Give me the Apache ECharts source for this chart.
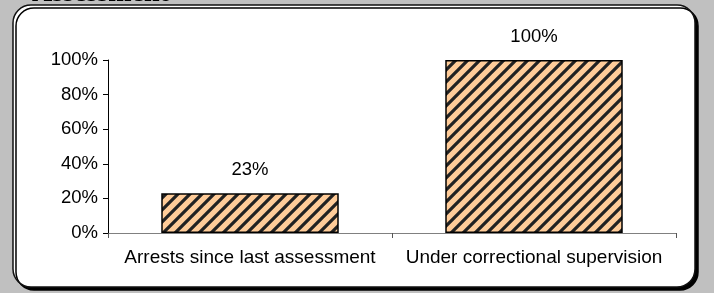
<!DOCTYPE html>
<html>
<head>
<meta charset="utf-8">
<script src="https://cdn.jsdelivr.net/npm/echarts@6/dist/echarts.min.js"></script>
<style>
  html, body { margin: 0; padding: 0; background: #c0c0c0; }
  #chart { width: 714px; height: 293px; }
</style>
</head>
<body>
<div id="chart"></div>
<script>
// data
var categories = ["Arrests since last assessment", "Under correctional supervision"];
var values = [23, 100];
var yTicks = [0, 20, 40, 60, 80, 100];

// hatched fill: peach with dark diagonal stripes
function makeHatch() {
  var s = 12;
  var c = document.createElement("canvas");
  c.width = s; c.height = s;
  var ctx = c.getContext("2d");
  ctx.fillStyle = "#ffcc99";
  ctx.fillRect(0, 0, s, s);
  ctx.strokeStyle = "#222";
  ctx.lineWidth = 3.2;
  ctx.beginPath();
  ctx.moveTo(-s, s * 2); ctx.lineTo(s * 2, -s);
  ctx.moveTo(-s, s); ctx.lineTo(s, -s);
  ctx.moveTo(0, s * 2); ctx.lineTo(s * 2, 0);
  ctx.stroke();
  return c;
}

var chart = echarts.init(document.getElementById("chart"));

var options = {
  backgroundColor: "#c0c0c0",
  animation: false,
  textStyle: { fontFamily: "Liberation Sans, Arial, sans-serif" },
  graphic: [
    {
      type: "rect",
      z: -10,
      shape: { x: 13, y: 5, width: 682, height: 282, r: 18 },
      style: {
        fill: "#fff",
        stroke: "#111",
        lineWidth: 1.5,
        shadowColor: "#000",
        shadowOffsetX: 3,
        shadowOffsetY: 3,
        shadowBlur: 0
      }
    },
    {
      // title cut off at the top edge of the picture
      type: "text",
      z: 10,
      style: {
        x: 32,
        y: 8,
        verticalAlign: "bottom",
        text: "Assessment",
        fill: "#000",
        font: "bold 28px Liberation Serif, Times New Roman, serif"
      }
    }
  ],
  grid: { left: 108, right: 38, top: 60, bottom: 60 },
  xAxis: {
    type: "category",
    data: categories,
    axisLine: { lineStyle: { color: "#808080", width: 1 } },
    axisTick: { show: true, length: 5, lineStyle: { color: "#555" } },
    axisLabel: { color: "#000", fontSize: 19, margin: 15, interval: 0, hideOverlap: false }
  },
  yAxis: {
    type: "value",
    min: 0,
    max: 100,
    interval: 20,
    axisLine: { show: true, lineStyle: { color: "#000", width: 1 } },
    axisTick: { show: true, length: 5, lineStyle: { color: "#000" } },
    splitLine: { show: false },
    axisLabel: {
      color: "#000",
      fontSize: 18.5,
      margin: 10,
      formatter: function (v) { return yTicks.indexOf(v) >= 0 ? v + "%" : ""; }
    }
  },
  series: [
    {
      type: "bar",
      data: values,
      barWidth: "62.5%",
      itemStyle: {
        color: { image: makeHatch(), repeat: "repeat" },
        borderColor: "#000",
        borderWidth: 1.5
      },
      label: {
        show: true,
        position: "top",
        distance: 14,
        color: "#000",
        fontSize: 18.5,
        formatter: "{c}%"
      }
    }
  ]
};

chart.setOption(options);
</script>
</body>
</html>
